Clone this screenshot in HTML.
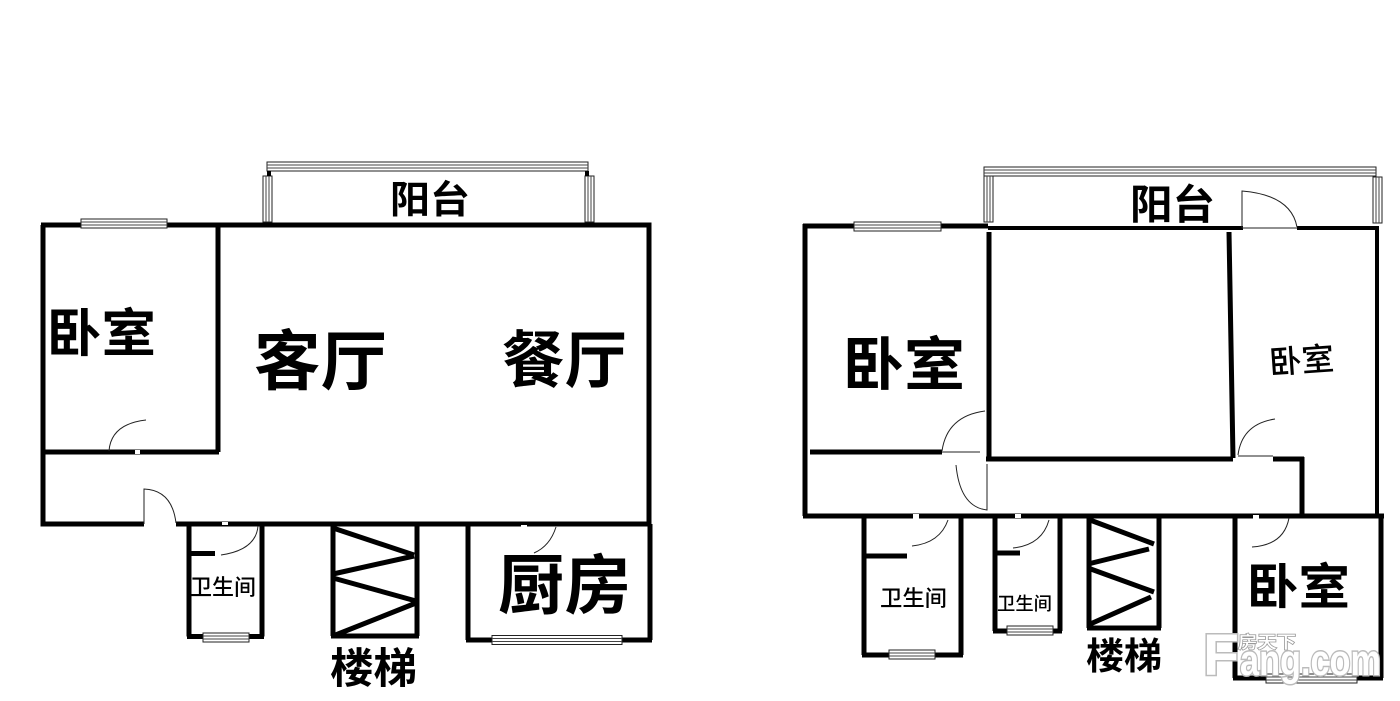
<!DOCTYPE html>
<html><head><meta charset="utf-8"><style>
html,body{margin:0;padding:0;background:#fff}
svg{display:block}
text{font-family:"Liberation Sans","Noto Sans CJK SC",sans-serif;fill:#000}
.b{font-weight:700}
.s{font-weight:500}
.w{fill:none;stroke:#000;stroke-width:5}
.t{fill:none;stroke:#222;stroke-width:1}
.win{fill:#fff;stroke:#222;stroke-width:1}
.m{fill:none;stroke:#444;stroke-width:1}
</style></head><body>
<svg width="1400" height="701" viewBox="0 0 1400 701" xmlns="http://www.w3.org/2000/svg">
<rect width="1400" height="701" fill="#fff"/>
<defs>
<g id="h"><rect class="win" x="0" y="0" width="100" height="9" vector-effect="non-scaling-stroke"/><path class="m" d="M0 3H100M0 6H100" vector-effect="non-scaling-stroke"/></g>
</defs>

<!-- LEFT PLAN -->
<path class="w" d="M41 225H649V524M43 225V524H144M43 452H219M218 225V452M176 524H650"/>
<path class="w" d="M189 524V636.500M262 524V636.500M187 636.500H264M190 553.500H215"/>
<path class="w" d="M333 524V636M417 524V636M331 636H419"/>
<path class="w" d="M333 528L414 555M333 574L414 556M333 578L416 601M333 636L416 603" stroke-width="4"/>
<path class="w" d="M468 525V640M650 524V640M466 640H652"/>
<path class="t" d="M144 524V489Q172 490 176 523"/>
<path class="t" d="M109 451Q111 424 146 420"/>
<path class="t" d="M258 526Q256 550 221 555"/>
<path class="t" d="M556 527Q550 546 534 553"/>
<rect x="135" y="450" width="5" height="4" fill="#fff"/>
<rect x="222" y="522" width="6" height="3" fill="#fff"/>
<rect x="521" y="525" width="6" height="3" fill="#fff"/>
<use href="#h" transform="translate(81 219) scale(.86 1)"/>
<use href="#h" transform="translate(267 162) scale(3.21 1)"/>
<use href="#h" transform="translate(272 176) rotate(90) scale(.46 1)"/>
<use href="#h" transform="translate(594 176) rotate(90) scale(.46 1)"/>
<rect x="267" y="171" width="4" height="5" fill="#000"/>
<rect x="585" y="171" width="4" height="5" fill="#000"/>
<use href="#h" transform="translate(203 633) scale(.46 1)"/>
<use href="#h" transform="translate(492 635.500) scale(1.3 1)"/>
<text class="b" x="390" y="213" font-size="38" textLength="80" lengthAdjust="spacingAndGlyphs">阳台</text>
<text class="b" x="47" y="352" font-size="52" textLength="109" lengthAdjust="spacingAndGlyphs">卧室</text>
<text class="b" x="254" y="384" font-size="65" textLength="133" lengthAdjust="spacingAndGlyphs">客厅</text>
<text class="b" x="502" y="382" font-size="62" textLength="125" lengthAdjust="spacingAndGlyphs">餐厅</text>
<text class="s" x="190" y="595" font-size="22" textLength="66" lengthAdjust="spacingAndGlyphs">卫生间</text>
<text class="b" x="330" y="683" font-size="42" textLength="87" lengthAdjust="spacingAndGlyphs">楼梯</text>
<text class="b" x="498" y="608" font-size="65" textLength="133" lengthAdjust="spacingAndGlyphs">厨房</text>

<!-- RIGHT PLAN -->
<path class="w" d="M803 226H988M805 224V516M803 516H1384"/>
<path class="w" stroke-width="4" style="stroke-width:4" d="M988 228H1379M1377 227V516"/>
<path class="w" d="M989 232V461M986 459H1233M1229 232L1233 458M1273 459H1304M1302 457V516M810 452H942"/>
<path class="w" d="M864 516V655M961 516V655M862 655H963M866 556H907"/>
<path class="w" d="M995 516V631M1060 516V631M993 631H1062M997 553H1020"/>
<path class="w" d="M1089 516V628M1159 516V628M1087 628H1161"/>
<path class="w" d="M1090 520L1154 544M1088 564L1149 549M1088 568L1154 592M1088 625L1151 597" stroke-width="4"/>
<path class="w" d="M1235 516V678M1381 516V678M1233 678H1383"/>
<rect x="1243" y="224" width="54" height="7" fill="#fff"/>
<rect x="913" y="514" width="6" height="5" fill="#fff"/>
<rect x="1015" y="514" width="6" height="4" fill="#fff"/>
<rect x="1253" y="515" width="6" height="4" fill="#fff"/>
<path class="t" d="M1242 228V191Q1291 195 1297 227M1242 228H1297"/>
<path class="t" d="M942 452H980M942 451Q947 416 985 411"/>
<path class="t" d="M987 464V510Q960 507 956 465"/>
<path class="t" d="M1238 456H1273M1238 455Q1242 424 1275 419"/>
<path class="t" d="M948 520Q940 543 912 546"/>
<path class="t" d="M1049 520Q1042 545 1013 548"/>
<path class="t" d="M1289 518Q1284 545 1252 547"/>
<use href="#h" transform="translate(854 222) scale(.87 1)"/>
<use href="#h" transform="translate(984 167) scale(3.92 1)"/>
<use href="#h" transform="translate(993 176) rotate(90) scale(.46 1)"/>
<use href="#h" transform="translate(1382 177) rotate(90) scale(.46 1)"/>
<use href="#h" transform="translate(889 650) scale(.46 1)"/>
<use href="#h" transform="translate(1007 626) scale(.46 1)"/>
<use href="#h" transform="translate(1266 674) scale(.91 1)"/>
<text class="b" x="1130" y="219" font-size="41" textLength="85" lengthAdjust="spacingAndGlyphs">阳台</text>
<text class="b" x="843" y="385" font-size="58" textLength="122" lengthAdjust="spacingAndGlyphs">卧室</text>
<text class="s" transform="translate(1270 374) rotate(-4)" font-size="32" textLength="65" lengthAdjust="spacingAndGlyphs">卧室</text>
<text class="s" x="880" y="606" font-size="22" textLength="67" lengthAdjust="spacingAndGlyphs">卫生间</text>
<text class="s" x="997" y="610" font-size="18" textLength="55" lengthAdjust="spacingAndGlyphs">卫生间</text>
<text class="b" x="1086" y="669" font-size="37" textLength="76" lengthAdjust="spacingAndGlyphs">楼梯</text>
<text class="b" x="1247" y="604" font-size="49" textLength="103" lengthAdjust="spacingAndGlyphs">卧室</text>

<!-- WATERMARK -->
<g style="paint-order:stroke" stroke="#bbb" stroke-width="3">
<text class="b" x="1203" y="675" font-size="58" style="fill:#fff" textLength="36" lengthAdjust="spacingAndGlyphs">F</text>
<text class="b" x="1240" y="675" font-size="44" style="fill:#fff" textLength="141" lengthAdjust="spacingAndGlyphs">ang.com</text>
</g>
<text class="s" x="1238" y="648" font-size="17" style="fill:#fff;paint-order:stroke" stroke="#999" stroke-width="1.500" textLength="58" lengthAdjust="spacingAndGlyphs">房天下</text>
</svg>
</body></html>
